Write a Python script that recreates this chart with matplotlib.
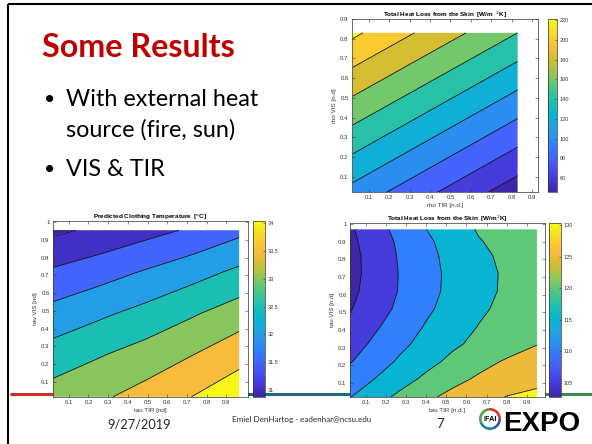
import numpy as np
import matplotlib
matplotlib.use("Agg")
import matplotlib.pyplot as plt
from matplotlib.colors import LinearSegmentedColormap, Normalize
from matplotlib.cm import ScalarMappable
from matplotlib.patches import Wedge

# ---------------- data ----------------
# top-right: Total heat loss vs rho TIR / rho VIS
tr_x = [0.02, 0.83]
tr_y = [0.02, 0.83]
tr_z = [[113, 48],
        [224, 160]]
tr_levels = [60, 80, 100, 120, 140, 160, 180, 200, 220]
tr_clim = [46, 221]
tr_cbticks = [60, 80, 100, 120, 140, 160, 180, 200, 220]
tr_ticks = [0.1, 0.2, 0.3, 0.4, 0.5, 0.6, 0.7, 0.8, 0.9]
tr_ticklabels = ["0.1", "0.2", "0.3", "0.4", "0.5", "0.6", "0.7", "0.8", "0.9"]

# bottom-left: Predicted clothing temperature vs tau TIR / tau VIS
bl_x = [0.02, 0.255, 0.49, 0.73, 0.965]
bl_y = [0.015, 0.25, 0.485, 0.72, 0.955]
bl_z = [[33.22, 33.42, 33.69, 34.01, 34.33],
        [32.72, 32.97, 33.21, 33.50, 33.83],
        [32.17, 32.41, 32.66, 32.95, 33.25],
        [31.57, 31.79, 32.04, 32.31, 32.60],
        [30.90, 31.10, 31.33, 31.57, 31.87]]
bl_levels = [31.0, 31.5, 32.0, 32.5, 33.0, 33.5, 34.0]
bl_clim = [30.87, 34.04]
bl_cbticks = [31, 31.5, 32, 32.5, 33, 33.5, 34]
bl_cblabels = ["31", "31.5", "32", "32.5", "33", "33.5", "34"]

# bottom-right: Total heat loss vs tau TIR / tau VIS
br_x = [0.02, 0.14, 0.27, 0.4, 0.53, 0.66, 0.8, 0.95]
br_y = [0.02, 0.12, 0.22, 0.32, 0.42, 0.52, 0.62, 0.72, 0.82, 0.9, 0.97]
br_z = [[114.8, 117.86, 121.10, 124.03, 126.32, 128.30, 130.16, 131.0],
        [112.13, 114.98, 118.10, 121.02, 123.63, 125.69, 127.26, 128.93],
        [109.64, 112.61, 115.73, 118.53, 121.12, 123.48, 125.51, 126.89],
        [107.86, 110.77, 113.89, 116.64, 119.18, 121.14, 122.94, 124.88],
        [106.07, 109.19, 112.37, 115.37, 117.77, 120.11, 121.82, 123.65],
        [104.63, 107.62, 111.03, 114.16, 116.79, 119.25, 121.10, 122.74],
        [103.82, 106.85, 110.32, 113.47, 116.22, 118.58, 120.71, 122.43],
        [103.40, 106.67, 110.24, 113.38, 116.14, 118.48, 120.66, 122.41],
        [103.40, 106.79, 110.47, 113.65, 116.46, 118.99, 120.96, 122.60],
        [103.83, 107.16, 110.85, 114.12, 116.99, 119.71, 121.38, 123.03],
        [104.20, 107.86, 111.55, 114.97, 117.88, 120.37, 121.83, 123.40]]
br_levels = [105, 110, 115, 120, 125, 130]
br_clim = [102.8, 130.3]
br_cbticks = [105, 110, 115, 120, 125, 130]

tau_yticks = [0.1, 0.2, 0.3, 0.4, 0.5, 0.6, 0.7, 0.8, 0.9, 1.0]
tau_yticklabels = ["0.1", "0.2", "0.3", "0.4", "0.5", "0.6", "0.7", "0.8", "0.9", "1"]

# ---------------- style ----------------
parula_pts = [
    (0.2422, 0.1504, 0.6603), (0.2706, 0.2147, 0.8364), (0.2813, 0.3006, 0.9414),
    (0.2699, 0.3892, 0.9906), (0.1963, 0.4847, 0.9892), (0.1687, 0.5703, 0.9359),
    (0.1248, 0.6459, 0.8883), (0.0297, 0.7082, 0.8163), (0.0964, 0.7446, 0.7120),
    (0.2161, 0.7707, 0.5932), (0.3909, 0.7875, 0.4528), (0.6174, 0.7675, 0.3138),
    (0.8203, 0.7445, 0.1893), (0.9728, 0.7291, 0.2391), (0.9859, 0.8050, 0.1878),
    (0.9578, 0.8994, 0.1239), (0.9769, 0.9839, 0.0805)]
parula_pos = [i * 4 / 63 for i in range(16)] + [1.0]
cmap = LinearSegmentedColormap.from_list("parula", list(zip(parula_pos, parula_pts)))

W, H = 592, 444
fig = plt.figure(figsize=(W / 100, H / 100), dpi=100)
GRAY = (0.2, 0.2, 0.2)
TFONT = "Liberation Sans"


def fbox(x0, y0, x1, y1):
    return [x0 / W, 1 - y1 / H, (x1 - x0) / W, (y1 - y0) / H]


def panel(ax_box, cb_box, x, y, z, levels, clim, xlim, ylim, xticks, xticklabels,
          yticks, yticklabels, title, xlabel, ylabel, cbticks, cblabels):
    ax = fig.add_axes(fbox(*ax_box))
    ax.set_facecolor("white")
    X, Y = np.meshgrid(x, y)
    Z = np.array(z, dtype=float)
    norm = Normalize(*clim)
    fill_levels = [Z.min() - 1] + list(levels) + [Z.max() + 1]
    colors = [cmap(0.0)] + [cmap(norm(L)) for L in levels]
    ax.contourf(X, Y, Z, levels=fill_levels, colors=colors, antialiased=True)
    ax.contour(X, Y, Z, levels=levels, colors="k", linewidths=0.55)
    ax.set_xlim(*xlim)
    ax.set_ylim(*ylim)
    ax.set_xticks(xticks)
    ax.set_xticklabels(xticklabels, family=TFONT)
    ax.set_yticks(yticks)
    ax.set_yticklabels(yticklabels, family=TFONT)
    ax.tick_params(direction="in", top=True, right=True, length=2, width=0.4,
                   labelsize=4.3, pad=2.5, colors=GRAY)
    for s in ax.spines.values():
        s.set_linewidth(0.5)
        s.set_color(GRAY)
    ax.set_title(title, fontsize=4.6, fontweight="bold", family=TFONT, pad=1.5)
    ax.set_xlabel(xlabel, fontsize=4.5, family=TFONT, color=GRAY, labelpad=2)
    ax.set_ylabel(ylabel, fontsize=4.5, family=TFONT, color=GRAY, labelpad=2)
    cax = fig.add_axes(fbox(*cb_box))
    cb = fig.colorbar(ScalarMappable(norm=norm, cmap=cmap), cax=cax)
    cb.set_ticks(cbticks)
    cb.set_ticklabels(cblabels)
    cb.ax.tick_params(direction="in", length=1.5, width=0.4, labelsize=4.0, pad=2,
                      colors=GRAY)
    for t in cb.ax.get_yticklabels():
        t.set_family(TFONT)
    cb.outline.set_linewidth(0.5)
    cb.outline.set_edgecolor(GRAY)
    return ax


# background slide layer (pixel coordinates)
bg = fig.add_axes([0, 0, 1, 1], zorder=-1)
bg.set_xlim(0, W)
bg.set_ylim(H, 0)
bg.axis("off")
bg.plot([8, 8], [4, H], color="black", lw=1.5, solid_capstyle="butt")
bg.plot([8, W], [4.5, 4.5], color="black", lw=1.5, solid_capstyle="butt")
bg.plot([10, 150], [394, 394], color="#d42a2a", lw=2.2, solid_capstyle="butt")
bg.plot([150, 545], [394, 394], color="#1d6a74", lw=2.2, solid_capstyle="butt")
bg.plot([545, W], [394, 394], color="#3a8a55", lw=2.2, solid_capstyle="butt")

bg.text(42, 57, "Some Results", color="#c00000", fontsize=23.2, fontweight="bold",
        family="Lato", va="baseline", ha="left")
for yb, txt, bullet in [(106, "With external heat", True),
                        (137, "source (fire, sun)", False),
                        (176, "VIS & TIR", True)]:
    if bullet:
        bg.text(44, yb - 1, "\u2022", fontsize=14, family="Lato", va="baseline")
    bg.text(66, yb, txt, fontsize=16.8, family="Lato", va="baseline", color="black")

bg.text(139, 428, "9/27/2019", fontsize=9.2, family="Lato", ha="center",
        va="baseline", color="#262626")
bg.text(302, 422, "Emiel DenHartog - eadenhar@ncsu.edu", fontsize=5.8, family="Lato",
        ha="center", va="baseline", color="#262626")
bg.text(440, 428, "7", fontsize=9.5, family="Lato", ha="center", va="baseline",
        color="#262626")

# IFAI EXPO logo
cx, cy, r = 490, 419, 11
for t1, t2, c in [(260, 360, "#d9342b"), (160, 260, "#4aa53c"),
                  (70, 160, "#1f7f95"), (0, 70, "#2b56a8")]:
    bg.add_patch(Wedge((cx, cy), r, t1, t2, width=2.6, color=c, lw=0))
bg.text(cx, cy + 0.5, "IFAI", fontsize=5.2, fontweight="bold", family="Liberation Sans",
        ha="center", va="center", color="black")
bg.text(503, 431, "EXPO", fontsize=20, fontweight="bold", family="Liberation Sans",
        ha="left", va="baseline", color="black")

# panels
panel((352, 19, 538, 192), (548, 19, 557, 192), tr_x, tr_y, tr_z, tr_levels, tr_clim,
      (0.017, 0.93), (0.024, 0.9), tr_ticks, tr_ticklabels, tr_ticks, tr_ticklabels,
      "Total Heat Loss from the Skin  [W/m  $^{2}$K]", "rho TIR [n.d.]", "rho VIS [n.d]",
      tr_cbticks, [str(v) for v in tr_cbticks])

panel((53, 221, 248, 397), (253, 221, 265, 397), bl_x, bl_y, bl_z, bl_levels, bl_clim,
      (0.02, 1.01), (0.014, 1.007), tr_ticks, tr_ticklabels, tau_yticks, tau_yticklabels,
      "Predicted Clothing Temperature  [$^{o}$C]", "tau TIR [nd]", "tau VIS [nd]",
      bl_cbticks, bl_cblabels)

panel((350, 223, 545, 397), (549, 223, 561, 397), br_x, br_y, br_z, br_levels, br_clim,
      (0.022, 0.99), (0.02, 1.006), tr_ticks, tr_ticklabels, tau_yticks, tau_yticklabels,
      "Total Heat Loss from the Skin  [W/m$^{2}$K]", "tau TIR [n.d.]", "tau VIS [n.d]",
      br_cbticks, [str(v) for v in br_cbticks])

fig.savefig("out.png", dpi=100)
